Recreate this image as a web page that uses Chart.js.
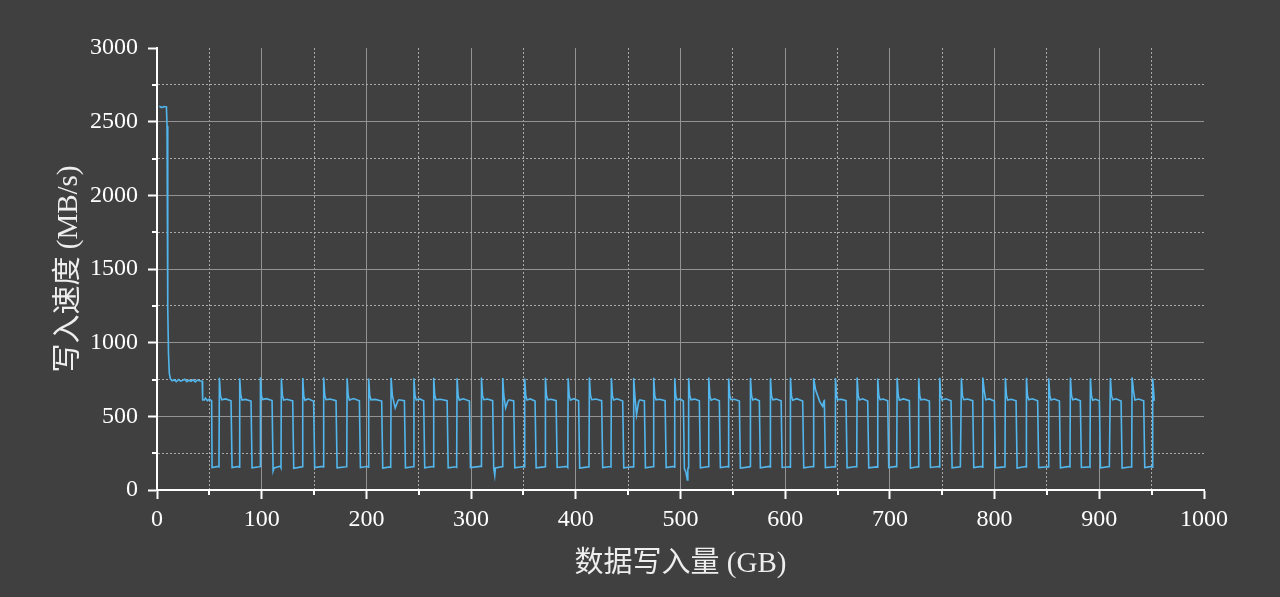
<!DOCTYPE html>
<html lang="zh-CN">
<head>
<meta charset="utf-8">
<title>写入速度</title>
<script src="https://cdn.jsdelivr.net/npm/chart.js@4.4.1/dist/chart.umd.min.js"></script>
<style>
  html, body { margin: 0; padding: 0; background: #404040; }
  #wrap { width: 1280px; height: 597px; }
</style>
</head>
<body>
<div id="wrap"><canvas id="speedChart" width="1280" height="597"></canvas></div>
<script>
// amount written (GB) - one line per write cycle
const writtenGB = [
  2.2, 4.5, 6.8, 9.0, 9.6, 10.0, 10.5, 11.0, 11.8, 12.8, 14.5, 16.5, 18.5, 20.5, 22.5, 24.5, 26.5,
  28.5, 30.5, 32.5, 34.5, 36.5, 38.5, 40.5, 43.2, 43.6, 45.0, 46.2, 48.0, 50.0, 51.6, 52.2, 52.6, 58.6,
  59.2, 59.6, 60.6, 61.8, 65.5, 70.7, 71.7, 78.0,
  78.6, 79.0, 80.0, 81.2, 84.5, 89.8, 90.8, 97.8,
  98.4, 98.8, 99.8, 101.0, 104.5, 109.9, 110.9, 111.8, 117.8,
  118.4, 118.8, 119.8, 121.0, 124.3, 129.6, 130.6, 138.2,
  138.8, 139.2, 140.2, 141.4, 144.5, 149.6, 150.6, 158.2,
  158.8, 159.2, 160.2, 161.4, 165.2, 171.0, 172.0, 180.6,
  181.2, 181.6, 182.6, 183.8, 187.5, 193.3, 194.3, 201.2,
  201.8, 202.2, 203.2, 204.4, 208.5, 214.6, 215.6, 222.6,
  223.2, 223.6, 224.8, 227.5, 229.8, 231.0, 236.3, 237.3, 244.4,
  245.0, 245.4, 246.4, 247.6, 251.0, 254.7, 255.7, 263.3,
  263.9, 264.3, 265.3, 266.5, 270.5, 277.1, 278.1, 285.6,
  286.2, 286.6, 287.6, 288.8, 292.5, 298.4, 299.4, 308.9,
  309.5, 309.9, 310.9, 312.1, 315.5, 320.6, 321.6, 322.6, 323.2, 329.2,
  329.8, 330.2, 331.2, 333.0, 335.0, 336.2, 340.7, 341.7, 350.2,
  350.8, 351.2, 352.2, 353.4, 356.5, 361.1, 362.1, 370.0,
  370.6, 371.0, 372.0, 373.2, 376.5, 381.2, 382.2, 391.7,
  392.3, 392.7, 393.7, 394.9, 398.0, 402.7, 403.7, 412.0,
  412.6, 413.0, 414.0, 415.2, 419.0, 424.7, 425.7, 433.0,
  433.6, 434.0, 435.0, 436.2, 439.5, 444.8, 445.8, 454.3,
  454.9, 455.3, 456.3, 458.0, 460.0, 461.2, 465.5, 466.5, 473.4,
  474.0, 474.4, 475.4, 476.6, 480.0, 485.3, 486.3, 493.5,
  494.1, 494.5, 495.5, 496.7, 499.5, 502.7, 503.7, 505.2, 506.5, 507.0,
  507.4, 507.8, 508.8, 510.0, 513.5, 518.0, 519.0, 526.0,
  526.6, 527.0, 528.0, 529.2, 532.5, 537.1, 538.1, 545.0,
  545.6, 546.0, 547.0, 548.2, 551.5, 556.2, 557.2, 565.8,
  566.4, 566.8, 567.8, 569.0, 571.5, 575.3, 576.3, 584.9,
  585.5, 585.9, 586.9, 588.1, 591.5, 596.1, 597.1, 604.0,
  604.6, 605.0, 606.0, 607.2, 611.0, 616.7, 617.7, 626.2,
  626.8, 627.2, 629.0, 633.0, 635.8, 637.0, 637.4, 638.4, 647.0,
  647.6, 648.0, 649.0, 650.2, 653.5, 658.1, 659.1, 667.7,
  668.3, 668.7, 669.7, 670.9, 674.0, 678.8, 679.8, 687.4,
  688.0, 688.4, 689.4, 690.6, 693.5, 697.9, 698.9, 705.9,
  706.5, 706.9, 707.9, 709.1, 713.0, 718.6, 719.6, 726.5,
  727.1, 727.5, 728.5, 729.7, 733.0, 737.7, 738.7, 746.6,
  747.2, 747.6, 748.6, 749.8, 753.5, 758.4, 759.4, 767.3,
  767.9, 768.3, 769.3, 770.5, 774.0, 779.1, 780.1, 787.7,
  788.3, 788.7, 790.0, 791.5, 795.0, 799.8, 800.8, 809.3,
  809.9, 810.3, 811.3, 812.5, 816.0, 820.5, 821.5, 829.4,
  830.0, 830.4, 831.4, 832.6, 836.0, 841.1, 842.1, 850.7,
  851.3, 851.7, 852.7, 853.9, 857.0, 861.9, 862.9, 871.4,
  872.0, 872.4, 873.4, 874.6, 877.5, 881.9, 882.9, 890.5,
  891.1, 891.5, 892.5, 893.7, 896.5, 900.1, 901.1, 909.6,
  910.2, 910.6, 911.6, 912.8, 916.0, 920.8, 921.8, 930.3,
  930.9, 931.3, 932.6, 934.0, 937.5, 942.4, 943.4, 950.0,
  950.6, 951.0, 951.8, 952.5
];

// write speed (MB/s), same layout as writtenGB
const speedMBs = [
  2605, 2596, 2603, 2600, 2470, 1880, 1240, 920, 790, 755, 742, 748, 736, 750, 739, 744, 752,
  735, 745, 738, 748, 734, 746, 741, 738, 612, 610, 624, 607, 616, 609, 600, 152, 160,
  158, 762, 640, 612, 618, 606, 152, 160,
  155, 758, 645, 610, 615, 604, 150, 158,
  160, 765, 638, 614, 620, 607, 130, 150, 162,
  152, 756, 642, 611, 616, 605, 148, 157,
  158, 760, 636, 609, 619, 603, 152, 160,
  156, 763, 644, 613, 617, 606, 150, 158,
  160, 759, 640, 610, 621, 605, 153, 161,
  154, 757, 639, 612, 615, 604, 149, 157,
  155, 762, 640, 556, 600, 612, 606, 150, 158,
  158, 758, 641, 611, 618, 605, 151, 159,
  157, 761, 643, 612, 616, 606, 150, 158,
  155, 759, 638, 610, 619, 604, 152, 160,
  159, 764, 642, 613, 617, 606, 148, 100, 150, 158,
  158, 760, 645, 557, 602, 612, 605, 151, 159,
  156, 757, 640, 611, 618, 604, 150, 157,
  158, 762, 641, 612, 616, 606, 153, 160,
  154, 758, 639, 610, 620, 605, 149, 157,
  159, 763, 644, 613, 617, 606, 152, 159,
  157, 760, 638, 611, 619, 604, 150, 158,
  156, 759, 650, 510, 598, 612, 605, 151, 158,
  158, 762, 642, 612, 616, 606, 152, 160,
  155, 758, 640, 611, 618, 604, 145, 120, 68, 140,
  150, 760, 643, 612, 617, 605, 150, 158,
  158, 763, 639, 610, 619, 606, 152, 159,
  156, 757, 641, 613, 616, 604, 149, 157,
  159, 761, 644, 611, 618, 605, 151, 160,
  157, 759, 640, 612, 617, 606, 153, 158,
  155, 762, 638, 610, 620, 604, 150, 159,
  158, 758, 680, 600, 568, 605, 607, 152, 158,
  156, 760, 643, 612, 616, 606, 151, 159,
  158, 763, 640, 611, 619, 604, 150, 157,
  155, 757, 641, 613, 617, 605, 152, 160,
  159, 761, 644, 610, 618, 606, 149, 158,
  157, 759, 639, 612, 616, 604, 153, 159,
  156, 762, 642, 611, 619, 605, 150, 158,
  158, 758, 640, 613, 617, 606, 152, 160,
  155, 763, 680, 612, 618, 604, 151, 157,
  159, 760, 643, 610, 616, 605, 149, 159,
  157, 761, 641, 612, 619, 606, 152, 158,
  156, 758, 639, 611, 617, 604, 150, 160,
  158, 762, 644, 613, 618, 605, 153, 157,
  155, 759, 640, 610, 616, 606, 151, 159,
  159, 760, 642, 612, 619, 604, 149, 158,
  157, 764, 675, 611, 617, 605, 152, 160,
  155, 756, 680, 605
];

const xTitle = '数据写入量 (GB)';
const yTitle = '写入速度 (MB/s)';

const lineColor = '#52b6ec';
const majorGrid = '#939393';
const minorGrid = '#aaaaaa';
const tickFont = { family: '"Liberation Serif", "Times New Roman", serif', size: 24 };
const titleFont = { family: '"Liberation Serif", "Noto Sans CJK SC", serif', size: 29, lineHeight: 1 };

const points = writtenGB.map((x, i) => ({ x: x, y: speedMBs[i] }));

// short ticks for the minor steps
const minorTicks = {
  id: 'minorTicks',
  afterDraw(chart) {
    const { ctx, chartArea, scales: { x, y } } = chart;
    ctx.save();
    ctx.strokeStyle = '#ffffff';
    ctx.lineWidth = 2;
    ctx.beginPath();
    x.ticks.forEach(t => {
      if (t.value % 100 !== 0) {
        const px = Math.round(x.getPixelForValue(t.value));
        ctx.moveTo(px, chartArea.bottom);
        ctx.lineTo(px, chartArea.bottom + 5);
      }
    });
    y.ticks.forEach(t => {
      if (t.value % 500 !== 0) {
        const py = Math.round(y.getPixelForValue(t.value));
        ctx.moveTo(chartArea.left - 5, py);
        ctx.lineTo(chartArea.left, py);
      }
    });
    ctx.stroke();
    ctx.restore();
  }
};

document.addEventListener('DOMContentLoaded', function () {
  const canvas = document.getElementById('speedChart');

  new Chart(canvas, {
    type: 'line',
    data: {
      datasets: [{
        data: points,
        borderColor: lineColor,
        borderWidth: 1.6,
        pointRadius: 0,
        fill: false,
        tension: 0
      }]
    },
    options: {
      responsive: false,
      animation: false,
      plugins: {
        legend: { display: false },
        tooltip: { enabled: false }
      },
      layout: { padding: { top: 48, right: 76, left: 0, bottom: 0 } },
      scales: {
        x: {
          type: 'linear',
          min: 0,
          max: 1000,
          afterFit: s => { s.height = 107; },
          ticks: {
            stepSize: 50,
            autoSkip: false,
            maxRotation: 0,
            padding: 6,
            color: '#ffffff',
            font: tickFont,
            callback: v => (v % 100 === 0 ? v : '')
          },
          grid: {
            color: c => (c.tick.value === 0 || c.tick.value === 1000) ? 'transparent'
              : (c.tick.value % 100 === 0 ? majorGrid : minorGrid),
            lineWidth: 1,
            tickLength: 9,
            tickWidth: 2,
            tickColor: c => (c.tick.value % 100 === 0 ? '#ffffff' : 'transparent')
          },
          border: {
            color: '#ffffff',
            width: 2,
            dash: c => (c.tick && c.tick.value % 100 !== 0 ? [2, 2] : [])
          },
          title: {
            display: true,
            text: xTitle,
            color: '#eeeeee',
            font: titleFont,
            padding: { top: 0, bottom: 18 }
          }
        },
        y: {
          min: 0,
          max: 3000,
          afterFit: s => { s.width = 157; },
          ticks: {
            stepSize: 250,
            autoSkip: false,
            padding: 10,
            color: '#ffffff',
            font: tickFont,
            callback: v => (v % 500 === 0 ? v : '')
          },
          grid: {
            color: c => (c.tick.value === 0 || c.tick.value === 3000) ? 'transparent'
              : (c.tick.value % 500 === 0 ? majorGrid : minorGrid),
            lineWidth: 1,
            tickLength: 9,
            tickWidth: 2,
            tickColor: c => (c.tick.value % 500 === 0 ? '#ffffff' : 'transparent')
          },
          border: {
            color: '#ffffff',
            width: 2,
            dash: c => (c.tick && c.tick.value % 500 !== 0 ? [2, 2] : [])
          },
          title: {
            display: true,
            text: yTitle,
            color: '#eeeeee',
            font: titleFont,
            padding: { top: 54.5, bottom: 0 }
          }
        }
      }
    },
    plugins: [minorTicks]
  });
});
</script>
</body>
</html>
